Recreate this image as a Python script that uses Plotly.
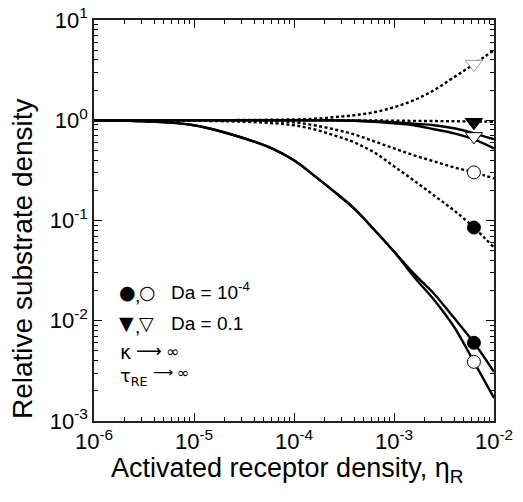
import plotly.graph_objects as go

# x grid (activated receptor density)
eta = [1e-6, 3.16e-6, 1e-5, 3.16e-5, 6.31e-5, 1e-4, 1.58e-4, 2.51e-4, 3.98e-4,
       6.31e-4, 1e-3, 1.58e-3, 2.51e-3, 3.98e-3, 6.31e-3, 1e-2]

# solid curves
solid_circ_filled = [1.0, 0.977, 0.891, 0.661, 0.513, 0.398, 0.282, 0.195, 0.132,
                     0.0813, 0.0490, 0.0295, 0.0186, 0.0107, 0.00603, 0.00309]
solid_circ_open = [1.0, 0.977, 0.891, 0.661, 0.513, 0.398, 0.282, 0.195, 0.132,
                   0.0813, 0.0490, 0.0275, 0.0162, 0.00871, 0.00389, 0.00170]
solid_tri_filled = [1, 1, 1, 1, 1, 1, 0.999, 0.997, 0.989, 0.977, 0.955, 0.923,
                    0.891, 0.832, 0.741, 0.646]
solid_tri_open = [1, 1, 1, 1, 1, 1, 0.999, 0.997, 0.989, 0.966, 0.933, 0.891,
                  0.813, 0.741, 0.646, 0.525]

# dashed curves
dash_circ_filled = [1.0, 1.0, 0.989, 0.966, 0.933, 0.891, 0.813, 0.708, 0.603,
                    0.479, 0.347, 0.251, 0.178, 0.126, 0.0851, 0.0537]
dash_circ_open = [1.0, 1.0, 1.0, 0.989, 0.977, 0.955, 0.891, 0.813, 0.724,
                  0.617, 0.525, 0.447, 0.389, 0.339, 0.302, 0.263]
dash_tri_filled = [1, 1, 1, 1, 1, 1, 1, 1, 0.998, 0.995, 0.99, 0.986, 0.982,
                   0.977, 0.972, 0.966]
dash_tri_open = [1.0, 1.0, 1.0, 1.005, 1.012, 1.019, 1.035, 1.072, 1.122, 1.202,
                 1.349, 1.585, 1.995, 2.69, 3.63, 5.01]

# marker points
mark_x = 6.3e-3
mark_circ_filled = [0.00603, 0.0851]
mark_circ_open = [0.00389, 0.302]
mark_tri_filled = [0.955]
mark_tri_open = [0.69]
mark_tri_faint = [3.63]

# tick labels
x_tickvals = [1e-6, 1e-5, 1e-4, 1e-3, 1e-2]
x_ticktext = ["10<sup>-6</sup>", "10<sup>-5</sup>", "10<sup>-4</sup>",
              "10<sup>-3</sup>", "10<sup>-2</sup>"]
y_tickvals = [1e-3, 1e-2, 1e-1, 1e0, 1e1]
y_ticktext = ["10<sup>-3</sup>", "10<sup>-2</sup>", "10<sup>-1</sup>",
              "10<sup>0</sup>", "10<sup>1</sup>"]

FONT = "Liberation Sans, Arial, Helvetica, sans-serif"
SYM = "DejaVu Sans"

fig = go.Figure()

def line(y, dash):
    fig.add_trace(go.Scatter(
        x=eta, y=y, mode="lines", line_shape="spline",
        line=dict(color="black", width=2.4, dash=dash),
        showlegend=False, hoverinfo="skip"))

for y in [solid_circ_filled, solid_circ_open, solid_tri_filled, solid_tri_open]:
    line(y, "solid")
for y in [dash_circ_filled, dash_circ_open, dash_tri_filled, dash_tri_open]:
    line(y, "3px,2.5px")

def marks(ys, symbol, fill, size, lc="black"):
    fig.add_trace(go.Scatter(
        x=[mark_x] * len(ys), y=ys, mode="markers",
        marker=dict(symbol=symbol, size=size, color=fill,
                    line=dict(color=lc, width=1)),
        showlegend=False, hoverinfo="skip"))

marks(mark_circ_filled, "circle", "black", 13)
marks(mark_circ_open, "circle", "white", 13)
marks(mark_tri_filled, "triangle-down", "black", 15)
marks(mark_tri_open, "triangle-down", "white", 15)
marks(mark_tri_faint, "triangle-down", "white", 15, lc="#9a9a9a")

# helper for annotations in page pixel coordinates (plot area 94..494 x 20..421)
X0, X1, Y0, Y1 = 94, 494, 421, 20
def ann(text, px, py, size, family=FONT, xanchor="left", angle=0):
    fig.add_annotation(xref="paper", yref="paper",
                       x=(px - X0) / (X1 - X0), y=(Y0 - py) / (Y0 - Y1),
                       xanchor=xanchor, yanchor="middle", showarrow=False,
                       textangle=angle, text=text, borderpad=0,
                       font=dict(family=family, size=size, color="black"))

# legend texts
ann("●", 118, 292, 19, SYM)
ann(",", 134, 295, 19)
ann("○", 138, 292, 19, SYM)
ann("Da = 10<sup>-4</sup>", 170, 291, 19)
ann("▼", 118, 323, 19, SYM)
ann(",", 134, 326, 19)
ann("▽", 138, 323, 19, SYM)
ann("Da = 0.1", 170, 323, 19)
ann("κ", 119, 352, 19, SYM)
ann("⟶", 135, 350, 18, SYM)
ann("∞", 165, 351, 16, SYM)
ann("τ<sub>RE</sub>", 119, 377, 18, SYM)
ann("⟶", 152, 372, 14, SYM)
ann("∞", 176, 373, 15, SYM)

# axis titles (as annotations for exact placement)
ann("Activated receptor density, η<sub>R</sub>", 287, 470, 27, xanchor="center")
ann("Relative substrate density", 22, 259, 28, xanchor="center", angle=-90)

axis_common = dict(
    type="log", showgrid=False, zeroline=False, showline=True,
    linecolor="#222", linewidth=1.5, mirror="ticks",
    ticks="inside", ticklen=8, tickwidth=1, tickcolor="black",
    tickmode="array", ticklabeloverflow="allow",
    tickfont=dict(family=FONT, size=22, color="black"),
    minor=dict(ticks="inside", ticklen=4, tickcolor="black", dtick="D1", showgrid=False),
)

fig.update_xaxes(range=[-6, -2], tickvals=x_tickvals, ticktext=x_ticktext, **axis_common)
fig.update_yaxes(range=[-3, 1], tickvals=y_tickvals, ticktext=y_ticktext, **axis_common)

fig.update_layout(
    width=523, height=502,
    margin=dict(l=94, r=29, t=20, b=81, autoexpand=False),
    plot_bgcolor="white", paper_bgcolor="white",
    showlegend=False,
)

# remove the default 8px page margin so the figure fills the window exactly
fig.write_html("out.html", config={"displayModeBar": False},
               post_script="document.body.style.margin='0';")
